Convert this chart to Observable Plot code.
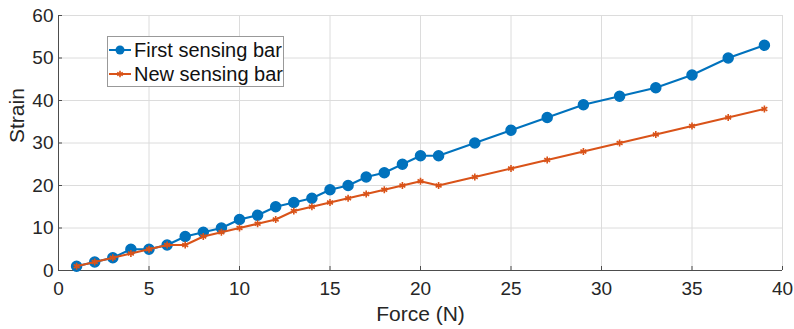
<!DOCTYPE html>
<html>
<head>
<meta charset="utf-8">
<script src="https://cdn.jsdelivr.net/npm/d3@7"></script>
<script src="https://cdn.jsdelivr.net/npm/@observablehq/plot@0.6"></script>
<style>
  body { margin: 0; background: #fff; }
  #wrap { position: relative; width: 794px; height: 329px; font-family: "Liberation Sans", Arial, sans-serif; }
  #legend { position: absolute; left: 107px; top: 36px; width: 177px; height: 51px; border: 1px solid #999; background: #fff; box-sizing: border-box; }
  .row { position: absolute; left: 0; height: 24px; display: flex; align-items: center; font-size: 20px; color: #111; white-space: nowrap; }
  .row svg { margin-left: 1px; margin-right: 2px; }
</style>
</head>
<body>
<div id="wrap"></div>
<script>
// Data
const forceValues = [1,2,3,4,5,6,7,8,9,10,11,12,13,14,15,16,17,18,19,20,21,23,25,27,29,31,33,35,37,39];
const strainFirst = [1,2,3,5,5,6,8,9,10,12,13,15,16,17,19,20,22,23,25,27,27,30,33,36,39,41,43,46,50,53];
const strainNew   = [1,2,3,4,5,6,6,8,9,10,11,12,14,15,16,17,18,19,20,21,20,22,24,26,28,30,32,34,36,38];
const seriesNames = ["First sensing bar", "New sensing bar"];
const seriesColors = ["#0072BD", "#D95319"];
const xTicks = [0,5,10,15,20,25,30,35,40];
const yTicks = [0,10,20,30,40,50,60];
const xLabel = "Force (N)";
const yLabel = "Strain";

const first = forceValues.map((f, i) => ({force: f, strain: strainFirst[i]}));
const next = forceValues.map((f, i) => ({force: f, strain: strainNew[i]}));

const axisColor = "#4d4d4d";
const textColor = "#262626";

const chart = Plot.plot({
  width: 794,
  height: 329,
  marginLeft: 58,
  marginRight: 12,
  marginTop: 15,
  marginBottom: 59,
  style: {fontFamily: '"Liberation Sans", Arial, sans-serif', fontSize: "19px", color: textColor, background: "#fff"},
  x: {domain: [0, 40], ticks: xTicks, label: null},
  y: {domain: [0, 60], ticks: yTicks, label: null},
  marks: [
    Plot.gridX(xTicks, {stroke: "#dcdcdc", strokeOpacity: 1}),
    Plot.gridY(yTicks, {stroke: "#dcdcdc", strokeOpacity: 1}),
    Plot.axisX(xTicks, {tickSize: -4, tickPadding: 15, stroke: axisColor, fill: textColor, label: null}),
    Plot.axisY(yTicks, {tickSize: -4, tickPadding: 9, stroke: axisColor, fill: textColor, label: null}),
    Plot.ruleX([0], {stroke: axisColor}),
    Plot.ruleY([0], {stroke: axisColor}),
    Plot.line(first, {x: "force", y: "strain", stroke: seriesColors[0], strokeWidth: 2}),
    Plot.dot(first, {x: "force", y: "strain", r: 5, fill: seriesColors[0], stroke: seriesColors[0]}),
    Plot.line(next, {x: "force", y: "strain", stroke: seriesColors[1], strokeWidth: 2}),
    Plot.dot(next, {x: "force", y: "strain", symbol: "asterisk", r: 3.2, stroke: seriesColors[1], strokeWidth: 1.6}),
    Plot.text([xLabel], {frameAnchor: "bottom", dy: 44, lineAnchor: "middle", fontSize: 21, fill: textColor}),
    Plot.text([yLabel], {frameAnchor: "left", dx: -41, rotate: -90, lineAnchor: "middle", fontSize: 21, fill: textColor})
  ]
});

const wrap = document.getElementById("wrap");
wrap.appendChild(chart);

// Legend
const legend = document.createElement("div");
legend.id = "legend";
const rowTops = [1, 25];
seriesNames.forEach((name, i) => {
  const row = document.createElement("div");
  row.className = "row";
  row.style.top = rowTops[i] + "px";
  const sw = d3.create("svg").attr("width", 23).attr("height", 20);
  sw.append("line").attr("x1", 0).attr("x2", 22).attr("y1", 10).attr("y2", 10)
    .attr("stroke", seriesColors[i]).attr("stroke-width", 2);
  if (i === 0) {
    sw.append("circle").attr("cx", 11).attr("cy", 10).attr("r", 4.5).attr("fill", seriesColors[i]);
  } else {
    sw.append("path").attr("transform", "translate(11,10)")
      .attr("d", d3.symbol(d3.symbolAsterisk, 28)())
      .attr("stroke", seriesColors[i]).attr("stroke-width", 1.6).attr("fill", "none");
  }
  row.appendChild(sw.node());
  const label = document.createElement("span");
  label.textContent = name;
  row.appendChild(label);
  legend.appendChild(row);
});
wrap.appendChild(legend);
</script>
</body>
</html>
